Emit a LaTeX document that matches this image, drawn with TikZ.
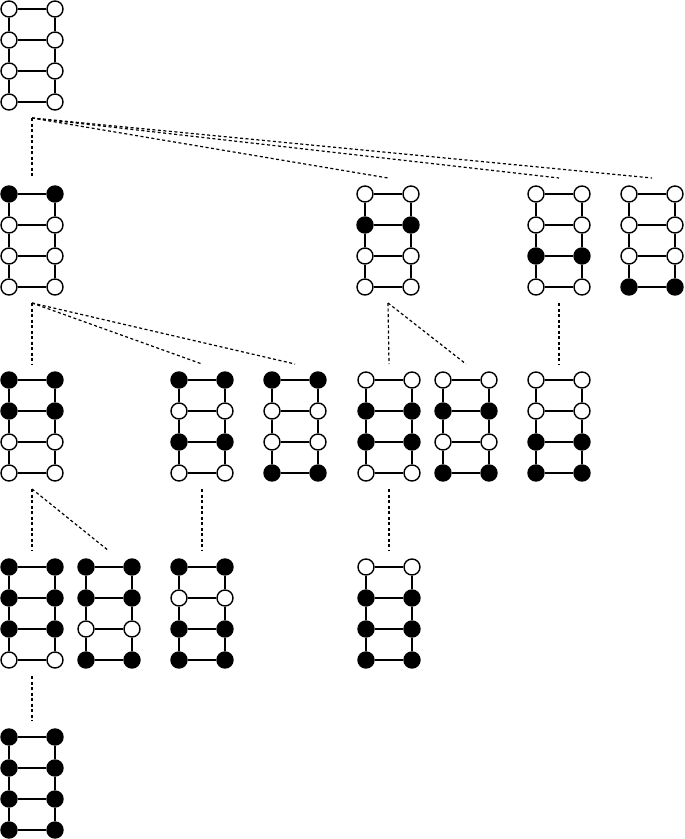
\documentclass[tikz,border=0pt]{standalone}
\usepackage{tikz}
\usetikzlibrary{positioning}

% one ladder: name, left x, top y, fill of the four rungs
\newcommand{\ladder}[4]{%
  \foreach \f [count=\r] in {#4} {
    \node[vtx,\f] (#1-l\r) at (#2,{#3+31*(\r-1)}) {};
    \node[vtx,\f] (#1-r\r) at ({#2+46},{#3+31*(\r-1)}) {};
    \draw[edge] (#1-l\r) -- (#1-r\r);
  }
  \draw[edge] (#1-l1) -- (#1-l2) -- (#1-l3) -- (#1-l4);
  \draw[edge] (#1-r1) -- (#1-r2) -- (#1-r3) -- (#1-r4);
  \coordinate (#1-top) at ({#2+23},{#3-16});
  \coordinate (#1-bot) at ({#2+23},{#3+93+16});
}

\begin{document}
\begin{tikzpicture}[
  x=1pt, y=-1pt,
  vtx/.style={draw, circle, line width=1.4pt, minimum size=16pt, inner sep=0pt},
  wht/.style={fill=white},
  blk/.style={fill=black},
  edge/.style={line width=1.5pt},
  link/.style={line width=1.2pt, dash pattern=on 3pt off 2.5pt}
]
  \useasboundingbox (0,0) rectangle (685,839);

  % level 0
  \ladder{r}{9}{9}{wht,wht,wht,wht}
  % level 1
  \ladder{a}{9}{194}{blk,wht,wht,wht}
  \ladder{b}{365}{194}{wht,blk,wht,wht}
  \ladder{c}{536}{194}{wht,wht,blk,wht}
  \ladder{d}{629}{194}{wht,wht,wht,blk}
  % level 2
  \ladder{ab}{9}{380}{blk,blk,wht,wht}
  \ladder{ac}{179}{380}{blk,wht,blk,wht}
  \ladder{ad}{272}{380}{blk,wht,wht,blk}
  \ladder{bc}{366}{380}{wht,blk,blk,wht}
  \ladder{bd}{443}{380}{wht,blk,wht,blk}
  \ladder{cd}{536}{380}{wht,wht,blk,blk}
  % level 3
  \ladder{abc}{9}{567}{blk,blk,blk,wht}
  \ladder{abd}{86}{567}{blk,blk,wht,blk}
  \ladder{acd}{179}{567}{blk,wht,blk,blk}
  \ladder{bcd}{366}{567}{wht,blk,blk,blk}
  % level 4
  \ladder{abcd}{9}{737}{blk,blk,blk,blk}

  \draw[link] (r-bot) -- (a-top);
  \draw[link] (r-bot) -- (b-top);
  \draw[link] (r-bot) -- (c-top);
  \draw[link] (r-bot) -- (d-top);
  \draw[link] (a-bot) -- (ab-top);
  \draw[link] (a-bot) -- (ac-top);
  \draw[link] (a-bot) -- (ad-top);
  \draw[link] (b-bot) -- (bc-top);
  \draw[link] (b-bot) -- (bd-top);
  \draw[link] (c-bot) -- (cd-top);
  \draw[link] (ab-bot) -- (abc-top);
  \draw[link] (ab-bot) -- (abd-top);
  \draw[link] (ac-bot) -- (acd-top);
  \draw[link] (bc-bot) -- (bcd-top);
  \draw[link] (abc-bot) -- (abcd-top);
\end{tikzpicture}
\end{document}
